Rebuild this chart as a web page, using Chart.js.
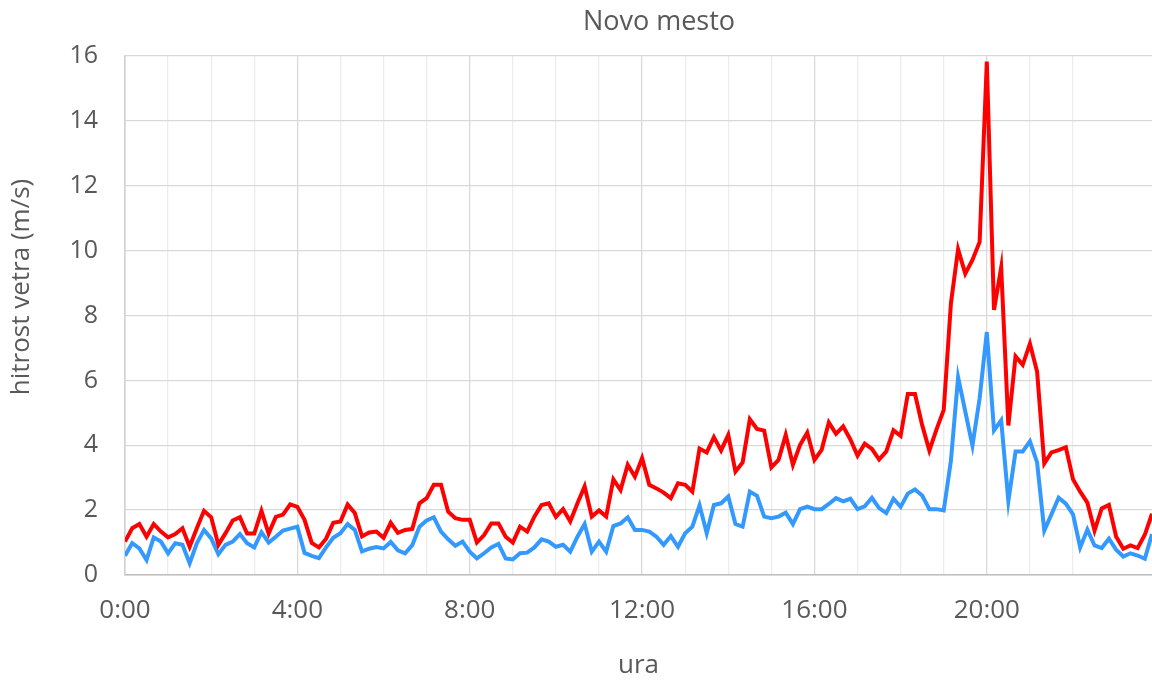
<!DOCTYPE html>
<html><head><meta charset="utf-8">
<script src="https://cdn.jsdelivr.net/npm/chart.js@4.4.1/dist/chart.umd.min.js"></script>
<style>html,body{margin:0;padding:0;background:#fff;}#wrap{width:1152px;height:682px;position:relative;}</style>
</head><body><div id="wrap"><canvas id="c" width="1152" height="682"></canvas></div>
<script>
const chartTitle = 'Novo mesto';
const xAxisTitle = 'ura';
const yAxisTitle = 'hitrost vetra (m/s)';
const intervalMinutes = 10;
const yTicks = [0, 2, 4, 6, 8, 10, 12, 14, 16];
const xLabelHours = [0, 4, 8, 12, 16, 20];

// red series (sunki vetra)
const sunki = [
 1.03,1.44,1.57,1.18,1.57,1.34,1.16,1.26,1.44,0.87,
 1.44,1.98,1.78,0.93,1.29,1.68,1.78,1.28,1.28,1.98,
 1.28,1.79,1.86,2.18,2.10,1.70,0.99,0.85,1.12,1.61,
 1.65,2.17,1.91,1.19,1.31,1.34,1.15,1.61,1.30,1.39,
 1.42,2.21,2.37,2.78,2.78,1.95,1.75,1.70,1.70,1.00,
 1.23,1.59,1.59,1.18,1.00,1.49,1.34,1.80,2.16,2.21,
 1.79,2.03,1.65,2.21,2.73,1.80,1.99,1.80,2.95,2.62,
 3.40,3.03,3.60,2.78,2.67,2.54,2.37,2.83,2.78,2.57,
 3.90,3.78,4.25,3.84,4.32,3.19,3.47,4.80,4.50,4.45,
 3.32,3.55,4.32,3.40,4.01,4.39,3.55,3.86,4.70,4.35,
 4.58,4.18,3.68,4.05,3.89,3.56,3.81,4.46,4.29,5.58,
 5.58,4.62,3.84,4.49,5.09,8.37,10.04,9.29,9.71,10.27,
 15.83,8.17,9.48,4.61,6.74,6.48,7.13,6.27,3.44,3.78,
 3.85,3.94,2.95,2.57,2.23,1.37,2.05,2.16,1.19,0.81,
 0.91,0.83,1.24,1.89
];
// blue series (povprecna hitrost)
const povprecje = [
 0.59,0.98,0.82,0.46,1.16,1.03,0.67,0.98,0.93,0.36,
 0.98,1.39,1.13,0.64,0.93,1.03,1.26,0.98,0.85,1.32,
 1.00,1.18,1.37,1.43,1.49,0.68,0.59,0.52,0.85,1.15,
 1.29,1.57,1.39,0.73,0.81,0.86,0.82,1.02,0.76,0.67,
 0.92,1.49,1.68,1.78,1.34,1.10,0.90,1.03,0.72,0.51,
 0.67,0.85,0.96,0.51,0.48,0.67,0.69,0.85,1.10,1.03,
 0.87,0.93,0.72,1.18,1.57,0.72,1.03,0.72,1.51,1.59,
 1.78,1.39,1.39,1.34,1.18,0.93,1.20,0.87,1.29,1.49,
 2.15,1.29,2.16,2.21,2.42,1.57,1.49,2.57,2.44,1.80,
 1.75,1.80,1.92,1.57,2.03,2.11,2.03,2.03,2.19,2.37,
 2.27,2.35,2.03,2.12,2.38,2.06,1.91,2.35,2.10,2.51,
 2.64,2.45,2.03,2.03,1.99,3.52,6.10,5.04,3.99,5.45,
 7.49,4.46,4.77,2.28,3.81,3.81,4.12,3.47,1.37,1.87,
 2.38,2.20,1.87,0.85,1.40,0.91,0.83,1.12,0.78,0.57,
 0.67,0.60,0.50,1.26
];

const toPoints = arr => arr.map((v, i) => ({x: i * intervalMinutes, y: v}));
const lastMinute = (sunki.length - 1) * intervalMinutes;
const FONT = "'Open Sans', 'DejaVu Sans', sans-serif";
const TXT = '#595959';

const textPlugin = {
  id: 'texts',
  afterDraw(chart) {
    const ctx = chart.ctx;
    const a = chart.chartArea;
    ctx.save();
    ctx.fillStyle = TXT;
    ctx.textAlign = 'center';
    ctx.textBaseline = 'middle';
    ctx.font = `27px ${FONT}`;
    ctx.fillText(chartTitle, 659, 22);
    ctx.font = `26px ${FONT}`;
    ctx.fillText(xAxisTitle, (a.left + a.right) / 2, 666);
    ctx.translate(22, 287);
    ctx.rotate(-Math.PI / 2);
    ctx.fillText(yAxisTitle, 0, 0);
    ctx.restore();
  }
};

new Chart(document.getElementById('c'), {
  type: 'line',
  data: {
    datasets: [
      {label: 'sunki', data: toPoints(sunki), borderColor: '#ff0000', borderWidth: 4, pointRadius: 0, tension: 0, fill: false},
      {label: 'povprečje', data: toPoints(povprecje), borderColor: '#3399ff', borderWidth: 4, pointRadius: 0, tension: 0, fill: false}
    ]
  },
  options: {
    responsive: false,
    animation: false,
    devicePixelRatio: 1,
    layout: {padding: {top: 56, left: 0, right: 0, bottom: 0}},
    plugins: {legend: {display: false}, title: {display: false}, tooltip: {enabled: false}},
    scales: {
      x: {
        type: 'linear',
        min: 0,
        max: lastMinute,
        afterBuildTicks: s => { s.ticks = s.ticks.filter(t => t.value % 60 === 0); },
        afterFit: s => { s.height = 107; },
        ticks: {
          stepSize: 60,
          autoSkip: false,
          maxRotation: 0,
          padding: 20,
          color: TXT,
          font: {family: FONT, size: 26},
          callback: v => (v % 240 === 0 && xLabelHours.includes(v / 60)) ? `${v / 60}:00` : ''
        },
        grid: {
          drawTicks: false,
          color: c => (c.tick && c.tick.value % 240 === 0) ? '#d9d9d9' : '#ededed',
          lineWidth: 1.3
        },
        border: {color: '#bfbfbf', width: 1.5}
      },
      y: {
        min: 0,
        max: 16,
        afterBuildTicks: s => { s.ticks = yTicks.map(v => ({value: v})); },
        afterFit: s => { s.width = 125; },
        ticks: {
          padding: 27,
          color: TXT,
          font: {family: FONT, size: 25}
        },
        grid: {drawTicks: false, color: '#d9d9d9', lineWidth: 1.3},
        border: {color: '#d0d0d0', width: 1.5}
      }
    }
  },
  plugins: [textPlugin]
});
</script></body></html>
